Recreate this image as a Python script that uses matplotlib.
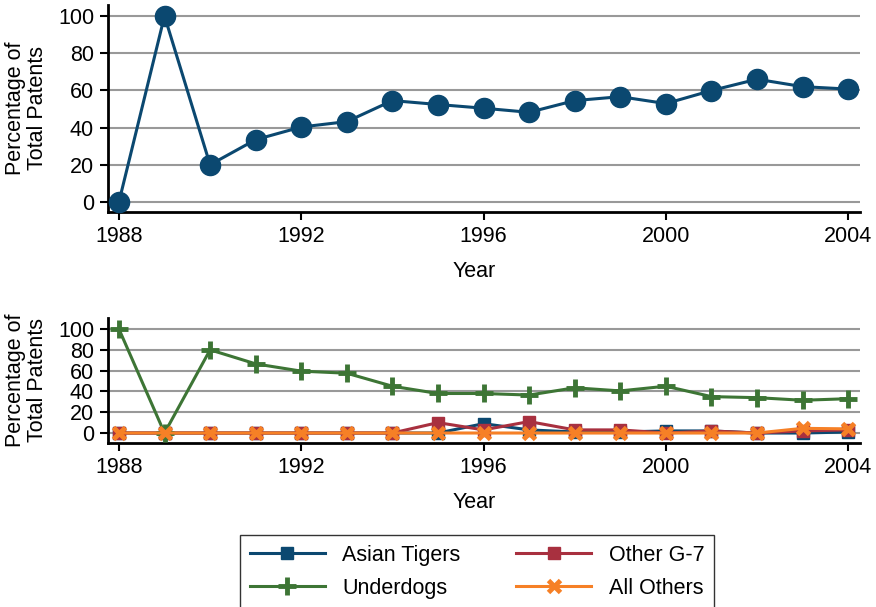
import matplotlib
matplotlib.use("Agg")
import matplotlib.pyplot as plt
from matplotlib.lines import Line2D

plt.rcParams['font.family'] = ['Liberation Sans', 'DejaVu Sans']

years = list(range(1988, 2005))

# top panel
total_share = [0, 100, 20, 33.5, 40.3, 43.2, 54.5, 52.4, 50.4, 48.2, 54.5, 56.6, 52.9, 59.9, 66, 62, 60.7]

# bottom panel
asian_tigers = [0, 0, 0, 0, 0, 0, 0, 0, 9, 3, 1, 1, 2, 2, 0, 0, 1]
other_g7 = [0, 0, 0, 0, 0, 0, 0, 10, 3, 11, 3, 3, 0, 2, 0, 2, 3]
underdogs = [100, 0, 80, 66.5, 59.5, 57.5, 45, 38, 38, 36.5, 43.5, 40.5, 45, 35, 34, 31.5, 33]
all_others = [0, 0, 0, 0, 0, 0, 0, 0, 0, 0, 0, 0, 0, 0, 0, 4.5, 4]

x_ticks = [1988, 1992, 1996, 2000, 2004]
y_ticks = [0, 20, 40, 60, 80, 100]

BLUE = '#0b4870'
RED = '#a8303f'
GREEN = '#3d7535'
ORANGE = '#f68026'
GRID = '#999999'
FS = 15.5

fig = plt.figure(figsize=(8.76, 6.07), dpi=100)
W, H = 876, 607


def make_axes(left, top, right, bottom):
    return fig.add_axes([left / W, 1 - bottom / H, (right - left) / W, (bottom - top) / H])


def style_axes(ax, ylim):
    ax.set_xlim(1987.76, 2004.26)
    ax.set_ylim(*ylim)
    ax.set_xticks(x_ticks)
    ax.set_yticks(y_ticks)
    for s in ['top', 'right']:
        ax.spines[s].set_visible(False)
    for s in ['left', 'bottom']:
        ax.spines[s].set_linewidth(2)
        ax.spines[s].set_color('black')
    ax.grid(axis='y', color=GRID, linewidth=1.5)
    ax.set_axisbelow(True)
    ax.tick_params(axis='both', direction='out', length=6, width=1.5, labelsize=FS, pad=4)
    ax.set_xlabel('Year', fontsize=FS)
    ax.set_ylabel('Percentage of\nTotal Patents', fontsize=FS, linespacing=1.05)
    ax.patch.set_alpha(0)


# top chart
ax1 = make_axes(108, 5, 860, 212)
ax1.plot(years, total_share, color=BLUE, lw=2.2, marker='o', markersize=14.5, clip_on=False, zorder=3)
style_axes(ax1, (-5.4, 105.9))
ax1.xaxis.set_label_coords(0.487, -0.235)
ax1.yaxis.set_label_coords(-0.08, 0.5)

# bottom chart
ax2 = make_axes(108, 318, 860, 443)
ax2.plot(years, asian_tigers, color=BLUE, lw=2.2, marker='s', markersize=8, clip_on=False, zorder=3)
ax2.plot(years, other_g7, color=RED, lw=2.2, marker='s', markersize=8, clip_on=False, zorder=3)
ax2.plot(years, underdogs, color=GREEN, lw=2.2, marker='+', markersize=13, markeredgewidth=3.5,
         clip_on=False, zorder=3)
ax2.plot(years, all_others, color=ORANGE, lw=2.2, marker='x', markersize=9, markeredgewidth=3.5,
         clip_on=False, zorder=4)
style_axes(ax2, (-9.6, 110.6))
ax2.xaxis.set_label_coords(0.487, -0.395)
ax2.yaxis.set_label_coords(-0.08, 0.5)

handles = [
    Line2D([], [], color=BLUE, lw=2.2, marker='s', markersize=8),
    Line2D([], [], color=GREEN, lw=2.2, marker='+', markersize=13, markeredgewidth=3.5),
    Line2D([], [], color=RED, lw=2.2, marker='s', markersize=8),
    Line2D([], [], color=ORANGE, lw=2.2, marker='x', markersize=9, markeredgewidth=3.5),
]
labels = ['Asian Tigers', 'Underdogs', 'Other G-7', 'All Others']
leg = fig.legend(handles, labels, ncol=2, fontsize=FS, frameon=True, fancybox=False,
                 edgecolor='black', handlelength=3.5, handletextpad=0.8, columnspacing=1.6,
                 borderpad=0.45, labelspacing=0.55, borderaxespad=0, mode='expand',
                 loc='upper left', bbox_to_anchor=(240 / W, 0, 474 / W, 1 - 535 / H))
leg.get_frame().set_linewidth(1.0)

fig.savefig('out.png', dpi=100)
